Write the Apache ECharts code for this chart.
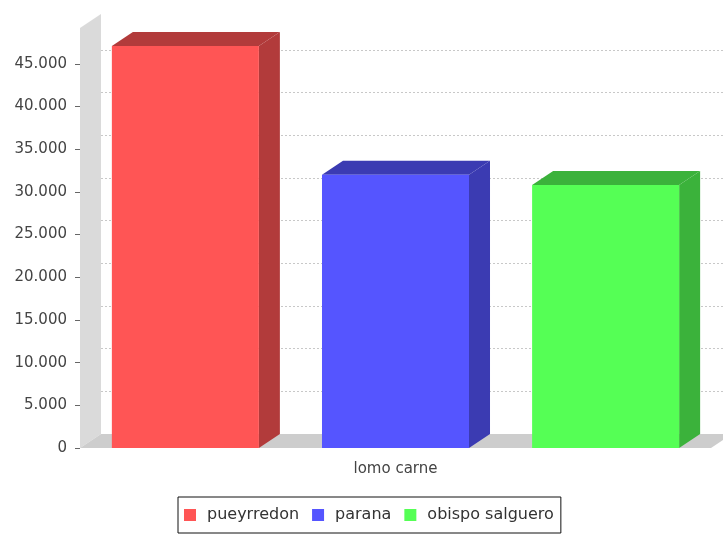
<!DOCTYPE html>
<html>
<head>
<meta charset="utf-8">
<script src="https://cdn.jsdelivr.net/npm/echarts@6/dist/echarts.min.js"></script>
<style>html,body{margin:0;padding:0;background:#fff;}#c{width:723px;height:536px;}</style>
</head>
<body>
<div id="c"></div>
<script>
// ---- data ----
const categories = ['lomo carne'];
const seriesNames = ['pueyrredon', 'parana', 'obispo salguero'];
const pueyrredon = [47100];
const parana = [32000];
const obispoSalguero = [30800];
const yTicks = [0, 5000, 10000, 15000, 20000, 25000, 30000, 35000, 40000, 45000];

// ---- style ----
const FRONT = ['#FF5555', '#5555FF', '#55FF55'];
const DARK = ['#B23B3B', '#3B3BB2', '#3BB23B'];
const DX = 21, DY = -14;
const BAR_RATIO = 0.233, BAR_STEP = 0.333;
const FONT = 'DejaVu Sans';

function fmt(v) { return String(v).replace(/\B(?=(\d{3})+(?!\d))/g, '.'); }

function barRender(idx) {
  return function (params, api) {
    const cat = api.value(0), v = api.value(1);
    const base = api.coord([cat, 0]);
    const top = api.coord([cat, v]);
    const band = api.size([1, 0])[0];
    const w = band * BAR_RATIO;
    const cx = base[0] + (idx - 1) * band * BAR_STEP;
    const x0 = cx - w / 2, x1 = cx + w / 2, y0 = top[1], y1 = base[1];
    return {
      type: 'group',
      children: [
        { type: 'polygon', shape: { points: [[x1, y0], [x1 + DX, y0 + DY], [x1 + DX, y1 + DY], [x1, y1]] }, style: { fill: DARK[idx] } },
        { type: 'polygon', shape: { points: [[x0, y0], [x0 + DX, y0 + DY], [x1 + DX, y0 + DY], [x1, y0]] }, style: { fill: DARK[idx] } },
        { type: 'rect', shape: { x: x0, y: y0, width: w, height: y1 - y0 }, style: { fill: FRONT[idx] } }
      ]
    };
  };
}

function frameRender(params, api) {
  const cs = params.coordSys;
  const xl = cs.x, xr = cs.x + cs.width, yt = cs.y, yb = cs.y + cs.height;
  return {
    type: 'group',
    children: [
      { type: 'polygon', shape: { points: [[xl, yt], [xl + DX, yt + DY], [xl + DX, yb + DY], [xl, yb]] }, style: { fill: '#DADADA' } },
      { type: 'polygon', shape: { points: [[xl, yb], [xl + DX, yb + DY], [xr + DX, yb + DY], [xr, yb]] }, style: { fill: '#CDCDCD' } }
    ]
  };
}

const allValues = [pueyrredon, parana, obispoSalguero];

const chart = echarts.init(document.getElementById('c'), null, { renderer: 'canvas' });
chart.setOption({
  animation: false,
  backgroundColor: '#ffffff',
  textStyle: { fontFamily: FONT },
  grid: [
    { left: 80, right: 12, top: 28, bottom: 88, containLabel: false, outerBoundsMode: 'none' },
    { left: 80 + DX, right: 12 - DX, top: 64 + DY, bottom: 88 - DY, containLabel: false, outerBoundsMode: 'none' }
  ],
  xAxis: [
    {
      type: 'category', gridIndex: 0, data: categories,
      axisLine: { show: false }, axisTick: { show: false }, splitLine: { show: false },
      axisLabel: { color: '#444', fontSize: 15, fontFamily: FONT, margin: 14 }
    },
    { type: 'category', gridIndex: 1, data: categories, show: false }
  ],
  yAxis: [
    {
      type: 'value', gridIndex: 0, min: 0, max: 49200, interval: 5000,
      axisLine: { show: false },
      axisTick: { show: true, length: 5, lineStyle: { color: '#666' }, customValues: yTicks },
      axisLabel: {
        color: '#444', fontSize: 15, fontFamily: FONT, margin: 13, customValues: yTicks,
        formatter: function (v) { return yTicks.indexOf(v) >= 0 ? fmt(v) : ''; }
      },
      splitLine: { show: false }
    },
    {
      type: 'value', gridIndex: 1, min: 0, max: 45000, interval: 5000,
      axisLine: { show: false }, axisTick: { show: false }, axisLabel: { show: false },
      splitLine: { show: true, lineStyle: { color: '#C8C8C8', type: [2, 2], width: 1 } }
    }
  ],
  legend: {
    data: seriesNames,
    left: 178, top: 497,
    orient: 'horizontal',
    borderColor: '#111', borderWidth: 1, borderRadius: 0,
    padding: [10, 7, 10, 6],
    itemWidth: 12, itemHeight: 12, itemGap: 13,
    icon: 'rect',
    textStyle: { color: '#333', fontSize: 16, fontFamily: FONT, padding: [0, 0, 0, 6] }
  },
  series: [
    {
      type: 'custom', name: 'frame', xAxisIndex: 0, yAxisIndex: 0, z: 1,
      data: [[0, 0]], renderItem: frameRender, silent: true
    }
  ].concat(seriesNames.map(function (name, i) {
    return {
      type: 'custom', name: name, xAxisIndex: 0, yAxisIndex: 0, z: 3,
      itemStyle: { color: FRONT[i] },
      encode: { x: 0, y: 1 },
      data: categories.map(function (c, k) { return [k, allValues[i][k]]; }),
      renderItem: barRender(i)
    };
  }))
});
</script>
</body>
</html>
